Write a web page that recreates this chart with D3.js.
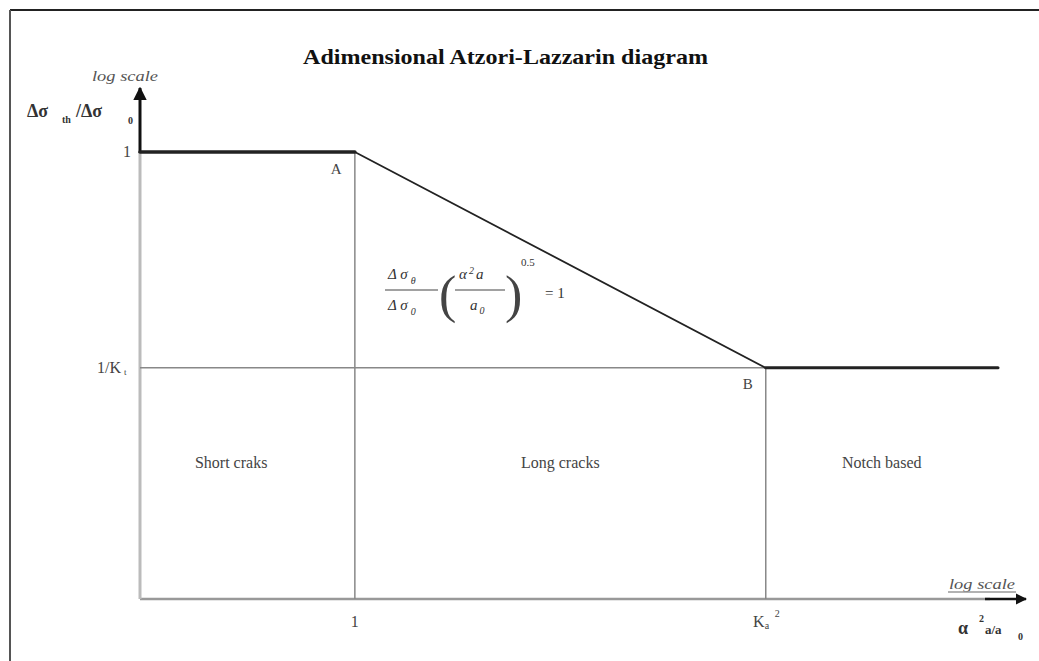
<!DOCTYPE html>
<html>
<head>
<meta charset="utf-8">
<script src="https://cdn.jsdelivr.net/npm/d3@7"></script>
<style>
  body { margin: 0; background: #fff; }
  text { font-family: "Liberation Serif", "DejaVu Serif", serif; fill: #333; }
</style>
</head>
<body>
<div class="wrapper"></div>
<script>
// values on both log axes (Ka^2 = 100, Kt = 5)
var xDomain = [0.09, 1350];
var yDomain = [0.0357, 1];
var xTicks = [1, 100];
var xTickLabels = ["1", "K"];
var yTicks = [1, 0.2];
var yTickLabels = ["1", "1/K"];
// the limit curve: flat, slope -0.5, flat
var curveX = [0.09, 1, 100, 1350];
var curveY = [1, 1, 0.2, 0.2];
var regions = ["Short craks", "Long cracks", "Notch based"];
var regionX = [0.25, 10, 367];

var width = 1039, height = 661;

var svg = d3.select(".wrapper")
  .append("svg")
    .attr("width", width)
    .attr("height", height);

var x = d3.scaleLog().domain(xDomain).range([140, 998]);
var y = d3.scaleLog().domain(yDomain).range([599, 152]);

// frame
svg.append("line").attr("x1", 10).attr("x2", width).attr("y1", 10).attr("y2", 10)
    .style("stroke", "#222").style("stroke-width", 2);
svg.append("line").attr("x1", 10).attr("x2", 10).attr("y1", 10).attr("y2", height)
    .style("stroke", "#555").style("stroke-width", 2);

// title
svg.append("text")
    .attr("x", 303).attr("y", 64)
    .attr("textLength", 405)
    .attr("lengthAdjust", "spacingAndGlyphs")
    .style("font-size", "21px")
    .style("font-weight", "bold")
    .style("fill", "#111")
    .text("Adimensional Atzori-Lazzarin diagram");

// gray guide lines
var grid = svg.append("g").style("stroke", "#888").style("stroke-width", 1.5);
grid.append("line") // x axis
    .attr("x1", x(xDomain[0])).attr("x2", 990)
    .attr("y1", y(yDomain[0])).attr("y2", y(yDomain[0]))
    .style("stroke", "#999").style("stroke-width", 2.5);
grid.append("line") // y axis below 1
    .attr("x1", x(xDomain[0])).attr("x2", x(xDomain[0]))
    .attr("y1", y(1)).attr("y2", y(yDomain[0]))
    .style("stroke", "#bbb").style("stroke-width", 3);
grid.append("line")
    .attr("x1", x(1)).attr("x2", x(1))
    .attr("y1", y(1)).attr("y2", y(yDomain[0]));
grid.append("line")
    .attr("x1", x(100)).attr("x2", x(100))
    .attr("y1", y(0.2)).attr("y2", y(yDomain[0]));
grid.append("line")
    .attr("x1", x(xDomain[0])).attr("x2", x(100))
    .attr("y1", y(0.2)).attr("y2", y(0.2));

// arrows
svg.append("defs").append("marker")
    .attr("id", "arr")
    .attr("viewBox", "0 0 10 10")
    .attr("refX", 9).attr("refY", 5)
    .attr("markerWidth", 4.5).attr("markerHeight", 4.5)
    .attr("markerUnits", "strokeWidth")
    .attr("orient", "auto")
  .append("path").attr("d", "M0,0 L10,5 L0,10 z").style("fill", "#111");

svg.append("line")
    .attr("x1", x(xDomain[0])).attr("x2", x(xDomain[0]))
    .attr("y1", y(1) + 1).attr("y2", 88)
    .style("stroke", "#111").style("stroke-width", 3)
    .attr("marker-end", "url(#arr)");
svg.append("line")
    .attr("x1", 985).attr("x2", 1026)
    .attr("y1", y(yDomain[0])).attr("y2", y(yDomain[0]))
    .style("stroke", "#111").style("stroke-width", 2.5)
    .attr("marker-end", "url(#arr)");

// limit curve
var pts = curveX.map((d, i) => [x(d), y(curveY[i])]);
var widths = [3.5, 1.8, 3];
for (var i = 0; i < pts.length - 1; i++) {
  svg.append("line")
      .attr("x1", pts[i][0]).attr("y1", pts[i][1])
      .attr("x2", pts[i + 1][0]).attr("y2", pts[i + 1][1])
      .style("stroke", "#222").style("stroke-width", widths[i])
      .style("stroke-linecap", "round");
}

// tick labels
svg.selectAll(".xt").data(xTicks).enter().append("text")
    .attr("x", d => x(d) + (d == 1 ? 0 : -7))
    .attr("y", 627)
    .attr("text-anchor", "middle")
    .style("font-size", "16px")
    .style("fill", "#444")
    .text((d, i) => xTickLabels[i]);
svg.append("text").attr("x", x(100) - 1).attr("y", 629).style("font-size", "10px").style("fill", "#444").text("a");
svg.append("text").attr("x", x(100) + 9).attr("y", 617).style("font-size", "10px").style("fill", "#444").text("2");

svg.selectAll(".yt").data(yTicks).enter().append("text")
    .attr("x", d => d == 1 ? 131 : 121)
    .attr("y", d => y(d) + 5)
    .attr("text-anchor", "end")
    .style("font-size", "16px")
    .style("fill", "#444")
    .text((d, i) => yTickLabels[i]);
svg.append("text").attr("x", 124).attr("y", y(0.2) + 7).style("font-size", "9px").style("fill", "#444").text("t");

// point labels
svg.append("text").attr("x", x(1) - 24).attr("y", y(1) + 22)
    .style("font-size", "15px").style("fill", "#444").text("A");
svg.append("text").attr("x", x(100) - 23).attr("y", y(0.2) + 21)
    .style("font-size", "15px").style("fill", "#444").text("B");

// region labels
svg.selectAll(".reg").data(regions).enter().append("text")
    .attr("x", (d, i) => x(regionX[i]))
    .attr("y", 468)
    .attr("text-anchor", "middle")
    .style("font-size", "16px")
    .style("fill", "#444")
    .text(d => d);

// axis names
svg.append("text").attr("x", 92).attr("y", 81)
    .attr("textLength", 66).attr("lengthAdjust", "spacingAndGlyphs")
    .style("font-size", "14px").style("font-style", "italic").style("fill", "#555").text("log scale");
svg.append("text").attr("x", 949).attr("y", 589)
    .attr("textLength", 66).attr("lengthAdjust", "spacingAndGlyphs")
    .style("font-size", "14px").style("font-style", "italic").style("fill", "#555").text("log scale");
svg.append("line").attr("x1", 948).attr("x2", 1016).attr("y1", 592).attr("y2", 592)
    .style("stroke", "#999").style("stroke-width", 1.5);

var yl = svg.append("g").style("font-weight", "bold").style("fill", "#222");
yl.append("text").attr("x", 27).attr("y", 117).style("font-size", "18px").text("Δσ");
yl.append("text").attr("x", 62).attr("y", 123).style("font-size", "10px").text("th");
yl.append("text").attr("x", 76).attr("y", 117).style("font-size", "18px").text("/Δσ");
yl.append("text").attr("x", 128).attr("y", 124).style("font-size", "10px").text("0");

var xl = svg.append("g").style("font-weight", "bold").style("fill", "#222");
xl.append("text").attr("x", 958).attr("y", 634).style("font-size", "18px").text("α");
xl.append("text").attr("x", 979).attr("y", 622).style("font-size", "10px").text("2");
xl.append("text").attr("x", 985).attr("y", 634).style("font-size", "13px").text("a/a");
xl.append("text").attr("x", 1018).attr("y", 640).style("font-size", "10px").text("0");

// formula
var f = svg.append("g").style("font-size", "15px").style("fill", "#444");
f.append("text").attr("x", 388).attr("y", 279).style("font-style", "italic")
  .html('Δ σ<tspan dx="3" dy="5" style="font-size:10px">θ</tspan>');
f.append("line").attr("x1", 385).attr("x2", 438).attr("y1", 290).attr("y2", 290)
    .style("stroke", "#444").style("stroke-width", 1.2);
f.append("text").attr("x", 388).attr("y", 310).style("font-style", "italic")
  .html('Δ σ<tspan dx="3" dy="5" style="font-size:10px">0</tspan>');
f.append("text").attr("x", 439).attr("y", 312).style("font-size", "52px")
    .style("fill", "#444").text("(");
f.append("text").attr("x", 459).attr("y", 279).style("font-style", "italic")
  .html('α<tspan dx="2" dy="-5" style="font-size:10px">2</tspan><tspan dx="2" dy="5">a</tspan>');
f.append("line").attr("x1", 455).attr("x2", 505).attr("y1", 290).attr("y2", 290)
    .style("stroke", "#444").style("stroke-width", 1.2);
f.append("text").attr("x", 470).attr("y", 310).style("font-style", "italic")
  .html('a<tspan dx="2" dy="4" style="font-size:10px">0</tspan>');
f.append("text").attr("x", 505).attr("y", 312).style("font-size", "52px")
    .style("fill", "#444").text(")");
f.append("text").attr("x", 521).attr("y", 266).style("font-size", "11px").text("0.5");
f.append("text").attr("x", 545).attr("y", 298).text("= 1");
</script>
</body>
</html>
